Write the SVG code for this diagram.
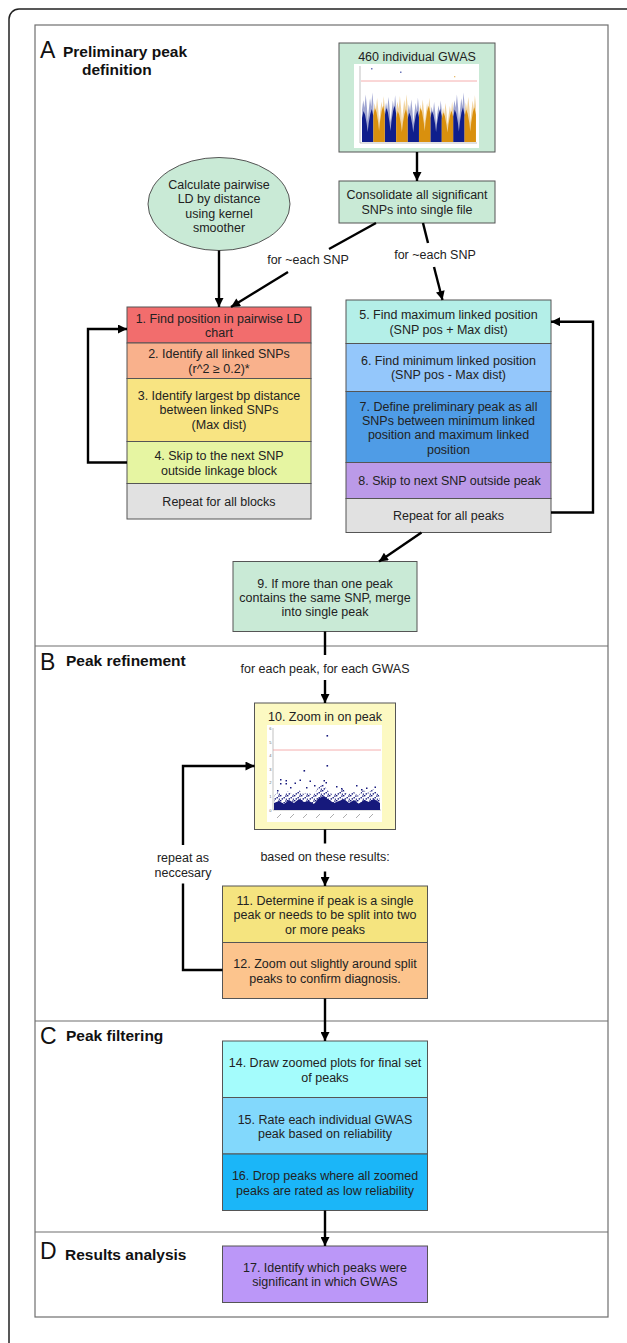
<svg xmlns="http://www.w3.org/2000/svg" xmlns:xlink="http://www.w3.org/1999/xlink" width="627" height="1343" viewBox="0 0 627 1343">
<style>
.box{stroke:#555;stroke-width:1}
.t{font-family:"Liberation Sans",Arial,sans-serif;font-size:12.5px;fill:#222;text-anchor:middle}
.h{font-family:"Liberation Sans",Arial,sans-serif;font-size:15.5px;font-weight:bold;fill:#111}
.L{font-family:"Liberation Sans",Arial,sans-serif;font-size:23px;fill:#111}
.c{fill:none;stroke:#000;stroke-width:2.4}
.tick{font-family:"Liberation Sans",Arial,sans-serif;font-size:4px;fill:#666;text-anchor:end}
.dot{fill:#16197c}
.ax{stroke:#999;stroke-width:0.6;fill:none}
</style>
<defs>
<marker id="ah" viewBox="0 0 10 10" refX="10" refY="5" markerWidth="10" markerHeight="9" markerUnits="userSpaceOnUse" orient="auto">
<path d="M0,0 L10,5 L0,10 Z" fill="#000"/>
</marker>
<path id="bandS" d="M0,0 V-34 L1.2,-44 L2.4,-36 L3.6,-50 L4.8,-36 L5.6,-22 L6.6,-34 L7.8,-46 L9,-37 L10,-52 L11,-40 V0 Z"/>
<path id="bandD" d="M0,0 V-24 L1.5,-31 L3,-27 L4.6,-18 L5.5,-10 L6.5,-19 L8,-28 L9.5,-33 L11,-26 V0 Z"/>
<pattern id="dp" width="7" height="5" patternUnits="userSpaceOnUse">
<rect x="0" y="0" width="1.4" height="1.4" fill="#16197c"/>
<rect x="3.5" y="2" width="1.4" height="1.4" fill="#16197c"/>
<rect x="5.2" y="0.4" width="1.4" height="1.4" fill="#16197c"/>
<rect x="1.6" y="3.2" width="1.4" height="1.4" fill="#16197c"/>
<rect x="5.8" y="3.6" width="1.2" height="1.2" fill="#16197c"/>
</pattern>
</defs>

<rect width="627" height="1343" fill="#fff"/>

<!-- frames -->
<path d="M627,9 H19 A10,10 0 0 0 9,19 V1343" fill="none" stroke="#222" stroke-width="1.5"/>
<rect x="35" y="25" width="573" height="1292" fill="none" stroke="#6f6f6f" stroke-width="1.2"/>
<g stroke="#6f6f6f" stroke-width="1.2">
<line x1="35" y1="646" x2="608" y2="646"/>
<line x1="35" y1="1021" x2="608" y2="1021"/>
<line x1="35" y1="1232" x2="608" y2="1232"/>
</g>

<!-- section headers -->
<g id="hdrA"><text class="L" x="40" y="58">A</text><text class="h" x="63" y="57">Preliminary peak</text><text class="h" x="82" y="75">definition</text></g>
<g id="hdrB"><text class="L" x="40" y="670">B</text><text class="h" x="66" y="666">Peak refinement</text></g>
<g id="hdrC"><text class="L" x="40" y="1044">C</text><text class="h" x="66" y="1041">Peak filtering</text></g>
<g id="hdrD"><text class="L" x="40" y="1259">D</text><text class="h" x="65" y="1260">Results analysis</text></g>

<!-- GWAS node -->
<g id="gwas">
<rect class="box" x="339" y="43" width="156" height="109" fill="#c9ead6"/>
<text class="t" x="417" y="61">460 individual GWAS</text>
<rect x="354" y="64" width="125" height="84" fill="#fff"/>
<path class="ax" d="M360,66 V143 H477"/>
<line x1="361" y1="81" x2="477" y2="81" stroke="#f39a9a" stroke-width="0.8"/>
<g fill="#0f1e8c">
<use href="#bandS" transform="translate(362,142) scale(1.03,0.95)" opacity="0.4"/>
<use href="#bandD" transform="translate(362,142) scale(1.03,1.0)"/>
<use href="#bandS" transform="translate(384.8,142) scale(1.03,0.9)" opacity="0.4"/>
<use href="#bandD" transform="translate(384.8,142) scale(1.03,1.1)"/>
<use href="#bandS" transform="translate(407.6,142) scale(1.03,0.85)" opacity="0.4"/>
<use href="#bandD" transform="translate(407.6,142) scale(1.03,0.95)"/>
<use href="#bandS" transform="translate(430.4,142) scale(1.03,0.8)" opacity="0.4"/>
<use href="#bandD" transform="translate(430.4,142) scale(1.03,1.0)"/>
<use href="#bandS" transform="translate(453.2,142) scale(1.03,0.95)" opacity="0.4"/>
<use href="#bandD" transform="translate(453.2,142) scale(1.03,1.05)"/>
</g>
<g fill="#d9900e">
<use href="#bandS" transform="translate(373.4,142) scale(1.03,0.88)" opacity="0.4"/>
<use href="#bandD" transform="translate(373.4,142) scale(1.03,1.1)"/>
<use href="#bandS" transform="translate(396.2,142) scale(1.03,0.92)" opacity="0.4"/>
<use href="#bandD" transform="translate(396.2,142) scale(1.03,1.0)"/>
<use href="#bandS" transform="translate(419,142) scale(1.03,0.85)" opacity="0.4"/>
<use href="#bandD" transform="translate(419,142) scale(1.03,1.1)"/>
<use href="#bandS" transform="translate(441.8,142) scale(1.03,0.78)" opacity="0.4"/>
<use href="#bandD" transform="translate(441.8,142) scale(1.03,0.95)"/>
<use href="#bandS" transform="translate(464.6,142) scale(1.03,0.9)" opacity="0.4"/>
<use href="#bandD" transform="translate(464.6,142) scale(1.03,1.05)"/>
</g>
<rect x="371" y="68" width="1.5" height="1.5" fill="#0f1e8c" opacity="0.6"/>
<rect x="400" y="71.5" width="1.5" height="1.5" fill="#0f1e8c" opacity="0.6"/>
<rect x="454" y="76" width="1.3" height="1.3" fill="#d9900e" opacity="0.6"/>
</g>

<!-- ellipse node -->
<g id="ld">
<ellipse class="box" cx="219" cy="204" rx="71" ry="46.5" fill="#c9ead6"/>
<text class="t" x="219" y="188.5">Calculate pairwise</text>
<text class="t" x="219" y="203">LD by distance</text>
<text class="t" x="219" y="217.5">using kernel</text>
<text class="t" x="219" y="232">smoother</text>
</g>

<!-- consolidate -->
<g id="consolidate">
<rect class="box" x="339" y="181" width="156" height="42" fill="#c9ead6"/>
<text class="t" x="417" y="198.7">Consolidate all significant</text>
<text class="t" x="417" y="214.4">SNPs into single file</text>
</g>

<!-- left stack -->
<g id="n1"><rect class="box" x="127" y="307" width="184" height="36" fill="#f26d6d"/>
<text class="t" x="219" y="323.4">1. Find position in pairwise LD</text><text class="t" x="219" y="337">chart</text></g>
<g id="n2"><rect class="box" x="127" y="343" width="184" height="35.5" fill="#f9b18c"/>
<text class="t" x="219" y="358.4">2. Identify all linked SNPs</text><text class="t" x="219" y="373.4">(r^2 ≥ 0.2)*</text></g>
<g id="n3"><rect class="box" x="127" y="378.5" width="184" height="63" fill="#f8e482"/>
<text class="t" x="219" y="400.4">3. Identify largest bp distance</text><text class="t" x="219" y="414.4">between linked SNPs</text><text class="t" x="219" y="428.7">(Max dist)</text></g>
<g id="n4"><rect class="box" x="127" y="441.5" width="184" height="42" fill="#e6f5a2"/>
<text class="t" x="219" y="460">4. Skip to the next SNP</text><text class="t" x="219" y="474.7">outside linkage block</text></g>
<g id="rep1"><rect class="box" x="127" y="483.5" width="184" height="35.5" fill="#e1e1e1"/>
<text class="t" x="219" y="506">Repeat for all blocks</text></g>

<!-- right stack -->
<g id="n5"><rect class="box" x="346" y="300" width="205" height="43.5" fill="#b4efe8"/>
<text class="t" x="448.5" y="319.4">5. Find maximum linked position</text><text class="t" x="448.5" y="333.7">(SNP pos + Max dist)</text></g>
<g id="n6"><rect class="box" x="346" y="343.5" width="205" height="48" fill="#94c7fb"/>
<text class="t" x="448.5" y="365.4">6. Find minimum linked position</text><text class="t" x="448.5" y="379.4">(SNP pos - Max dist)</text></g>
<g id="n7"><rect class="box" x="346" y="391.5" width="205" height="71" fill="#4f9ce6"/>
<text class="t" x="448.5" y="411">7. Define preliminary peak as all</text><text class="t" x="448.5" y="425">SNPs between minimum linked</text><text class="t" x="448.5" y="439.4">position and maximum linked</text><text class="t" x="448.5" y="453.7">position</text></g>
<g id="n8"><rect class="box" x="346" y="462.5" width="205" height="36" fill="#bb9ae8"/>
<text class="t" x="449.5" y="484.7">8. Skip to next SNP outside peak</text></g>
<g id="rep2"><rect class="box" x="346" y="498.5" width="205" height="34" fill="#e1e1e1"/>
<text class="t" x="448.5" y="520.4">Repeat for all peaks</text></g>

<!-- node 9 -->
<g id="n9"><rect class="box" x="233" y="561.5" width="184" height="70" fill="#c9ead6"/>
<text class="t" x="325" y="587.7">9. If more than one peak</text><text class="t" x="325" y="601.7">contains the same SNP,  merge</text><text class="t" x="325" y="616">into single peak</text></g>

<!-- node 10 -->
<g id="n10"><rect class="box" x="254.5" y="703" width="141" height="126.5" fill="#fcf9c2"/>
<text class="t" x="325" y="721">10. Zoom in on peak</text>
<rect x="267" y="725" width="115" height="97" fill="#fff"/>
<path class="ax" d="M273,728 V810 H381"/>
<g class="tick">
<text x="271.5" y="811.5">0</text><text x="271.5" y="797.9">1</text><text x="271.5" y="784.3">2</text><text x="271.5" y="770.7">3</text><text x="271.5" y="757.1">4</text><text x="271.5" y="743.5">5</text><text x="271.5" y="729.9">6</text>
</g>
<g stroke="#888" stroke-width="0.7">
<line x1="277" y1="818" x2="281" y2="814"/><line x1="290" y1="818" x2="294" y2="814"/><line x1="303" y1="818" x2="307" y2="814"/><line x1="316" y1="818" x2="320" y2="814"/><line x1="330" y1="818" x2="334" y2="814"/><line x1="343" y1="818" x2="347" y2="814"/><line x1="356" y1="818" x2="360" y2="814"/><line x1="369" y1="818" x2="373" y2="814"/>
</g>
<line x1="273" y1="750" x2="381" y2="750" stroke="#f39a9a" stroke-width="0.8"/>
<path d="M274,810 V796 L278,792 L283,796 L288,791 L293,795 L298,789 L303,794 L308,792 L313,796 L318,788 L323,784 L328,791 L333,795 L338,792 L343,789 L348,795 L353,791 L358,796 L363,790 L368,793 L373,789 L378,794 L380,797 V810 Z" fill="url(#dp)"/>
<path d="M274,810 V803 L279,801 L284,804 L289,800 L294,803 L299,799 L304,802 L309,801 L314,804 L319,798 L324,796 L329,800 L334,803 L339,801 L344,799 L349,803 L354,800 L359,804 L364,800 L369,802 L374,799 L380,803 V810 Z" fill="#16197c"/>
<g class="dot">
<rect x="326.5" y="735" width="1.6" height="1.6"/><rect x="326.5" y="765" width="1.6" height="1.6"/><rect x="303.5" y="770" width="1.6" height="1.6"/>
<rect x="280" y="779" width="1.5" height="1.5"/><rect x="285.5" y="780" width="1.5" height="1.5"/><rect x="280" y="783" width="1.5" height="1.5"/><rect x="285.5" y="783" width="1.5" height="1.5"/>
<rect x="294.5" y="782.5" width="1.5" height="1.5"/><rect x="299.5" y="779.5" width="1.5" height="1.5"/><rect x="309.5" y="780.5" width="1.5" height="1.5"/>
<rect x="323.5" y="780" width="1.5" height="1.5"/><rect x="325.5" y="782" width="1.5" height="1.5"/><rect x="341" y="788" width="1.5" height="1.5"/>
<rect x="366" y="787.5" width="1.5" height="1.5"/><rect x="374.5" y="786.5" width="1.5" height="1.5"/><rect x="314" y="785" width="1.5" height="1.5"/>
<rect x="290" y="787" width="1.5" height="1.5"/><rect x="356" y="785" width="1.5" height="1.5"/><rect x="336" y="786" width="1.5" height="1.5"/>
<rect x="277" y="790" width="1.5" height="1.5"/><rect x="361" y="789" width="1.5" height="1.5"/><rect x="306" y="787" width="1.5" height="1.5"/>
</g>
</g>

<!-- nodes 11-12 -->
<g id="n11"><rect class="box" x="222.5" y="886" width="205" height="56.5" fill="#f5e47f"/>
<text class="t" x="325" y="905.4">11. Determine if peak is a single</text><text class="t" x="325" y="919.4">peak or needs to be split into two</text><text class="t" x="325" y="933.7">or more peaks</text></g>
<g id="n12"><rect class="box" x="222.5" y="942.5" width="205" height="56" fill="#fcc48d"/>
<text class="t" x="325" y="968.4">12. Zoom out slightly around split</text><text class="t" x="325" y="983">peaks to confirm diagnosis.</text></g>

<!-- nodes 14-17 -->
<g id="n14"><rect class="box" x="222.5" y="1041" width="205" height="56.5" fill="#a4fcfc"/>
<text class="t" x="325" y="1067">14. Draw zoomed plots for final set</text><text class="t" x="325" y="1082">of peaks</text></g>
<g id="n15"><rect class="box" x="222.5" y="1097.5" width="205" height="56.5" fill="#82d8fc"/>
<text class="t" x="325" y="1123.7">15. Rate each individual GWAS</text><text class="t" x="325" y="1138.4">peak based on reliability</text></g>
<g id="n16"><rect class="box" x="222.5" y="1154" width="205" height="56.5" fill="#1bb6f8"/>
<text class="t" x="325" y="1180">16. Drop peaks where all zoomed</text><text class="t" x="325" y="1194.7">peaks are rated as low reliability</text></g>
<g id="n17"><rect class="box" x="222.5" y="1246" width="205" height="56.5" fill="#bb97f8"/>
<text class="t" x="325" y="1272">17. Identify which peaks were</text><text class="t" x="325" y="1286">significant in which GWAS</text></g>

<!-- connectors -->
<g id="connectors">
<line class="c" x1="417" y1="152" x2="417" y2="181" marker-end="url(#ah)"/>
<line class="c" x1="219" y1="250.5" x2="219" y2="307" marker-end="url(#ah)"/>
<line class="c" x1="376" y1="223" x2="329" y2="249"/>
<line class="c" x1="288" y1="272" x2="231" y2="307" marker-end="url(#ah)"/>
<line class="c" x1="423" y1="223" x2="428" y2="243"/>
<line class="c" x1="434" y1="267" x2="442.5" y2="300" marker-end="url(#ah)"/>
<polyline class="c" points="127,462.5 88,462.5 88,329 127,329" marker-end="url(#ah)"/>
<polyline class="c" points="551,512.5 593,512.5 593,321.7 551,321.7" marker-end="url(#ah)"/>
<line class="c" x1="421.5" y1="532.5" x2="379" y2="561.5" marker-end="url(#ah)"/>
<line class="c" x1="325" y1="631.5" x2="325" y2="655"/>
<line class="c" x1="325" y1="680" x2="325" y2="703" marker-end="url(#ah)"/>
<line class="c" x1="325" y1="829.5" x2="325" y2="843.5"/>
<line class="c" x1="325" y1="871.5" x2="325" y2="886" marker-end="url(#ah)"/>
<polyline class="c" points="222.5,970 183,970 183,883.5"/>
<polyline class="c" points="183,845 183,766 254.5,766" marker-end="url(#ah)"/>
<line class="c" x1="325" y1="998.5" x2="325" y2="1041" marker-end="url(#ah)"/>
<line class="c" x1="325" y1="1210.5" x2="325" y2="1246" marker-end="url(#ah)"/>
<text class="t" x="308" y="264.4">for ~each SNP</text>
<text class="t" x="435" y="259.4">for ~each SNP</text>
<text class="t" x="325" y="672.7">for each peak, for each GWAS</text>
<text class="t" x="325" y="861">based on these results:</text>
<text class="t" x="183" y="861.7">repeat as</text>
<text class="t" x="183" y="876.7">neccesary</text>
</g>
</svg>
